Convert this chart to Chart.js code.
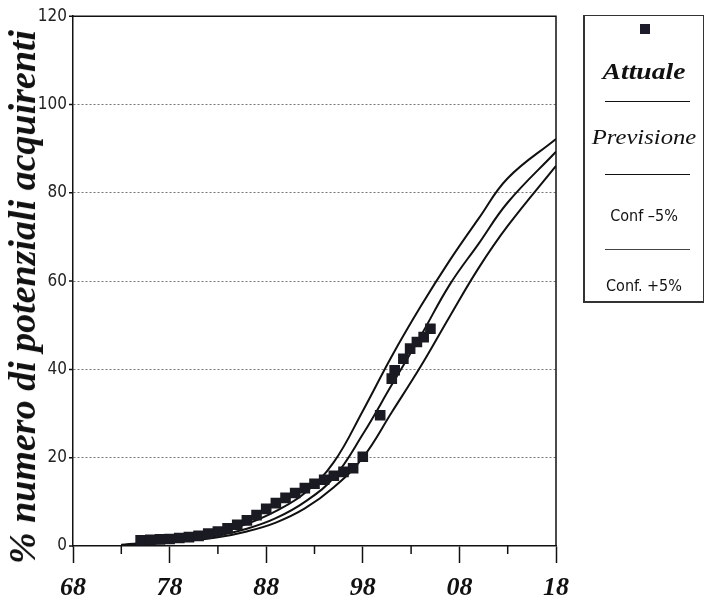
<!DOCTYPE html>
<html>
<head>
<meta charset="utf-8">
<script src="https://cdn.jsdelivr.net/npm/chart.js@4.4.1/dist/chart.umd.min.js"></script>
<style>
  html, body { margin: 0; padding: 0; background: #fff; }
  #wrap { position: relative; width: 707px; height: 604px; }
  #chart { position: absolute; left: 0; top: 0; }
  #ytitle {
    position: absolute; left: 22px; top: 297px; white-space: nowrap; color: #111;
    font: italic bold 38px "Liberation Serif", serif;
    transform: translate(-50%, -50%) rotate(-90deg);
  }
  #legend {
    position: absolute; left: 583px; top: 15px; width: 121px; height: 288px;
    box-sizing: border-box; border: 1px solid #333; border-left-width: 2px; border-bottom-width: 2px;
    background: #fff;
  }
  #legend .sym-rect { position: absolute; width: 10px; height: 10px; background: #1c1c2a; }
  #legend .sym-line { position: absolute; height: 0; border-top: 1.5px solid #111; }
  #legend .lab { position: absolute; left: 0; width: 100%; text-align: center; white-space: nowrap; color: #111; }
</style>
</head>
<body>
<div id="wrap">
  <canvas id="chart" width="707" height="604"></canvas>
  <div id="ytitle"></div>
  <div id="legend"></div>
</div>
<script>
// Observed share of potential buyers (year, %)
const actualYears  = [1975, 1976, 1977, 1978, 1979, 1980, 1981, 1982, 1983, 1984, 1985, 1986,
                      1987, 1988, 1989, 1990, 1991, 1992, 1993, 1994, 1995, 1996, 1997, 1998,
                      1999.8, 2001.0, 2001.3, 2002.2, 2002.9, 2003.6, 2004.3, 2005.0];
const actualValues = [1.3, 1.4, 1.5, 1.6, 1.8, 2.0, 2.3, 2.8, 3.3, 4.0, 4.8, 5.8,
                      7.0, 8.4, 9.7, 10.9, 12.0, 13.1, 14.1, 15.0, 15.9, 16.8, 17.6, 20.2,
                      29.6, 37.9, 39.8, 42.4, 44.7, 46.2, 47.3, 49.2];

// Forecast curve and its confidence band
const forecastYears  = [1973, 1978, 1983, 1986, 1989, 1992, 1995, 1998, 2001, 2004, 2007, 2010, 2013, 2018];
const forecastValues = [0.2, 1.0, 2.4, 3.9, 6.3, 10.0, 15.5, 25.3, 36.5, 47.6, 59.2, 68.5, 77.8, 89.3];
const confLowValues  = [0.1, 0.8, 2.0, 3.3, 5.3, 8.5, 13.3, 20.0, 30.3, 40.7, 52.0, 63.0, 72.5, 86.1];
const confHighValues = [0.3, 1.3, 3.0, 5.0, 7.9, 12.0, 19.0, 30.6, 43.0, 54.3, 64.7, 74.2, 83.3, 92.2];

const seriesNames = ['Attuale', 'Previsione', 'Conf \u20135%', 'Conf. +5%'];
const yTickValues = [0, 20, 40, 60, 80, 100, 120];
const xTickValues = [1968, 1978, 1988, 1998, 2008, 2018];
const minorYears  = [1973, 1983, 1993, 2003, 2013];
const yTitle = '% numero di potenziali acquirenti';

const narrowSans = '"DejaVu Sans Condensed", "Liberation Sans Narrow", "Liberation Sans", sans-serif';

const pts = (xs, ys) => xs.map((x, i) => ({ x: x, y: ys[i] }));

const lineStyle = {
  showLine: true, pointRadius: 0, borderColor: '#111', borderWidth: 2,
  tension: 0.4, fill: false
};

// Frame on top/right, minor year ticks, short value ticks
const frameAndTicks = {
  id: 'frameAndTicks',
  afterDraw(chart) {
    const { ctx, chartArea: a, scales: { x, y } } = chart;
    ctx.save();
    ctx.strokeStyle = '#111';
    ctx.lineWidth = 1.5;
    ctx.beginPath();
    ctx.moveTo(a.left, a.top);
    ctx.lineTo(a.right, a.top);
    ctx.lineTo(a.right, a.bottom);
    ctx.stroke();
    ctx.beginPath();
    minorYears.forEach(yr => {
      const px = x.getPixelForValue(yr);
      ctx.moveTo(px, a.bottom);
      ctx.lineTo(px, a.bottom + 8);
    });
    yTickValues.forEach(v => {
      const py = y.getPixelForValue(v);
      ctx.moveTo(a.left - 4, py);
      ctx.lineTo(a.left, py);
    });
    ctx.stroke();
    ctx.restore();
  }
};

new Chart(document.getElementById('chart'), {
  type: 'scatter',
  data: {
    datasets: [
      { label: seriesNames[0], data: pts(actualYears, actualValues), pointStyle: 'rect',
        pointRadius: 7.5, pointHoverRadius: 7.5, backgroundColor: '#1a1a22', borderWidth: 0, showLine: false },
      Object.assign({ label: seriesNames[1], data: pts(forecastYears, forecastValues) }, lineStyle),
      Object.assign({ label: seriesNames[2], data: pts(forecastYears, confLowValues) }, lineStyle),
      Object.assign({ label: seriesNames[3], data: pts(forecastYears, confHighValues) }, lineStyle)
    ]
  },
  options: {
    responsive: false,
    animation: false,
    layout: { padding: { top: 15, right: 151, left: 0, bottom: 0 } },
    plugins: { legend: { display: false }, tooltip: { enabled: false } },
    scales: {
      x: {
        type: 'linear', min: 1968, max: 2018,
        afterFit(s) { s.height = 58; },
        afterBuildTicks(s) { s.ticks = xTickValues.map(v => ({ value: v })); },
        ticks: {
          padding: 10, color: '#111', maxRotation: 0, autoSkip: false,
          font: { family: 'Liberation Serif', size: 26, weight: 'bold', style: 'italic' },
          callback: v => String(v % 100).padStart(2, '0')
        },
        grid: { drawOnChartArea: false, drawTicks: true, tickLength: 17, tickColor: '#111', tickWidth: 1.5 },
        border: { display: true, color: '#111', width: 1.5 }
      },
      y: {
        min: 0, max: 120,
        afterFit(s) { s.width = 73; },
        afterBuildTicks(s) { s.ticks = yTickValues.map(v => ({ value: v })); },
        ticks: {
          padding: 6, color: '#222',
          font: { family: narrowSans, size: 17 }
        },
        grid: {
          drawTicks: false, lineWidth: 1,
          color: c => (c.tick && (c.tick.value === 0 || c.tick.value === 120)) ? 'rgba(0,0,0,0)' : '#777'
        },
        border: { display: true, color: '#111', width: 1.5, dash: [2, 2] },
        title: { display: false, text: yTitle }
      }
    }
  },
  plugins: [frameAndTicks]
});

document.getElementById('ytitle').textContent = yTitle;

// Legend box: each series symbol sits above its name
(function buildLegend() {
  const box = document.getElementById('legend');
  const add = (cls, css, text) => {
    const el = document.createElement('div');
    el.className = cls;
    el.style.cssText = css;
    if (text) el.textContent = text;
    box.appendChild(el);
  };
  add('sym-rect', 'left:55px;top:8px;');
  add('lab', 'top:43px;line-height:28px;font:italic bold 23px "Liberation Serif";transform:scaleX(1.2);', seriesNames[0]);
  add('sym-line', 'left:20px;width:85px;top:85px;');
  add('lab', 'top:108px;line-height:28px;font:italic 22px "Liberation Serif";transform:scaleX(1.12);', seriesNames[1]);
  add('sym-line', 'left:20px;width:85px;top:158px;');
  add('lab', 'top:190px;line-height:24px;font:16px ' + narrowSans + ';', seriesNames[2]);
  add('sym-line', 'left:20px;width:85px;top:233px;border-top-color:#444;');
  add('lab', 'top:260px;line-height:24px;font:16px ' + narrowSans + ';', seriesNames[3]);
})();
</script>
</body>
</html>
